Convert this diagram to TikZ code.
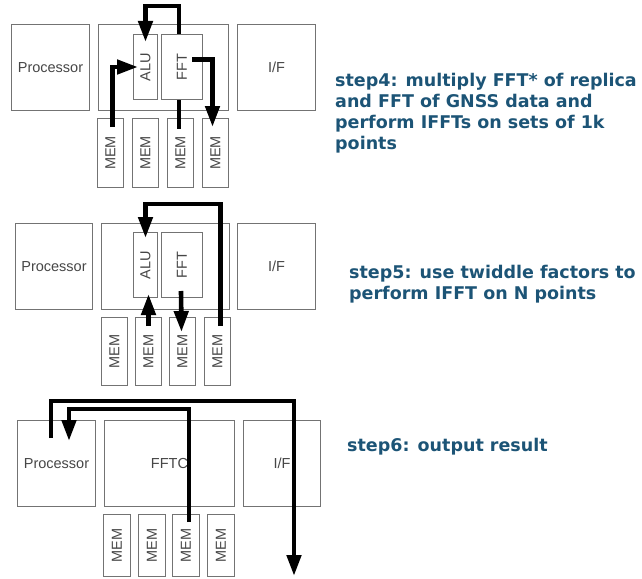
\documentclass[tikz,border=0pt]{standalone}
\usepackage{fontspec}
\usepackage{graphicx}
\setmainfont{Liberation Sans}
\newfontfamily\stepfont{DejaVu Sans}
\usetikzlibrary{arrows.meta,calc}
\definecolor{boxline}{RGB}{115,115,115}
\definecolor{boxtext}{RGB}{70,70,70}
\definecolor{steptext}{RGB}{28,84,118}
\begin{document}
\begin{tikzpicture}[x=1pt,y=-1pt,
  blk/.style={draw=boxline,line width=1pt,anchor=north west,inner sep=0pt,
    font=\fontsize{14.5}{16}\selectfont,text=boxtext},
  bigblk/.style={blk,minimum width=78pt,minimum height=86pt},
  midblk/.style={blk,minimum width=130pt,minimum height=86pt},
  alublk/.style={blk,minimum width=24pt,minimum height=65pt},
  fftblk/.style={blk,minimum width=41pt,minimum height=65pt},
  memblk/.style={blk,minimum width=26pt,minimum height=69pt},
  flow/.style={line width=4.6pt,draw=black},
  arr/.style={flow,-{Triangle[width=14pt,length=21pt]}},
  steplabel/.style={anchor=north west,inner sep=0pt,align=left,text=steptext,
    font=\stepfont\bfseries\fontsize{17.5}{21}\selectfont}
]
\useasboundingbox (0,0) rectangle (642,578);

% ---- step 4 ----
\node[bigblk] (p1proc) at (11,24) {Processor};
\node[midblk] (p1mid) at (98,24) {};
\node[alublk] (p1alu) at (133,34) {\rotatebox{90}{ALU}};
\node[fftblk] (p1fft) at (161,34) {\rotatebox{90}{FFT}};
\node[bigblk] (p1if) at (237,24) {I/F};
\node[memblk] (p1m1) at (97,118) {\rotatebox{90}{MEM}};
\node[memblk] (p1m2) at (132,118) {\rotatebox{90}{MEM}};
\node[memblk] (p1m3) at (167,118) {\rotatebox{90}{MEM}};
\node[memblk] (p1m4) at (202,118) {\rotatebox{90}{MEM}};

\draw[arr] ($(p1fft.north)+(-3,0)$) -- ++(0,-28) -| ($(p1alu.north)+(0,8)$);
\draw[arr] ($(p1m1.north)+(2,9)$) |- ($(p1alu.west)+(5,0)$);
\draw[flow] ($(p1fft.south)+(-3,0)$) -- ++(0,29);
\draw[arr] ($(p1fft.center)+(10,-7.5)$) -| ($(p1m4.north)+(-3,9)$);

\node[steplabel] (s4) at (335,73) {step4: multiply FFT* of replica\\and FFT of GNSS data and\\perform IFFTs on sets of 1k\\points};

% ---- step 5 ----
\node[bigblk,minimum width=77pt] (p2proc) at (15,223) {Processor};
\node[midblk,minimum width=128pt] (p2mid) at (101,223) {};
\node[alublk] (p2alu) at (133,232) {\rotatebox{90}{ALU}};
\node[fftblk] (p2fft) at (161,232) {\rotatebox{90}{FFT}};
\node[bigblk] (p2if) at (237,223) {I/F};
\node[memblk,minimum height=68pt] (p2m1) at (101,317) {\rotatebox{90}{MEM}};
\node[memblk,minimum height=68pt] (p2m2) at (135,317) {\rotatebox{90}{MEM}};
\node[memblk,minimum height=68pt] (p2m3) at (169,317) {\rotatebox{90}{MEM}};
\node[memblk,minimum height=68pt] (p2m4) at (204,317) {\rotatebox{90}{MEM}};

\coordinate (p2src) at ($(p2m4.north)+(3,9)$);
\draw[arr] (p2src) -- ++(0,-122) -| ($(p2alu.north)+(0,6)$);
\coordinate (p2up) at ($(p2m2.north)+(0,9)$);
\draw[arr] (p2up) -- ($(p2up |- p2alu.south)+(0,-4)$);
\draw[arr] ($(p2fft.south)+(-1,-7)$) -- ($(p2m3.north)+(-1,15)$);

\node[steplabel] (s5) at (349,265) {step5: use twiddle factors to\\perform IFFT on N points};

% ---- step 6 ----
\node[bigblk] (p3proc) at (17,420) {Processor};
\node[midblk] (p3fftc) at (104,420) {FFTC};
\node[bigblk,minimum width=77pt] (p3if) at (243,420) {I/F};
\node[memblk,minimum width=27pt,minimum height=62pt] (p3m1) at (103,514) {\rotatebox{90}{MEM}};
\node[memblk,minimum width=27pt,minimum height=62pt] (p3m2) at (138,514) {\rotatebox{90}{MEM}};
\node[memblk,minimum width=27pt,minimum height=62pt] (p3m3) at (172,514) {\rotatebox{90}{MEM}};
\node[memblk,minimum width=27pt,minimum height=62pt] (p3m4) at (207,514) {\rotatebox{90}{MEM}};

\coordinate (p3out) at (294,576);
\draw[arr] ($(p3proc.north west)+(34,18)$) -- ++(0,-37) -| (p3out);
\draw[arr] ($(p3m3.north)+(3,8)$) -- ++(0,-113) -| ($(p3proc.north west)+(52,21)$);

\node[steplabel] (s6) at (347,438) {step6: output result};
\end{tikzpicture}
\end{document}
